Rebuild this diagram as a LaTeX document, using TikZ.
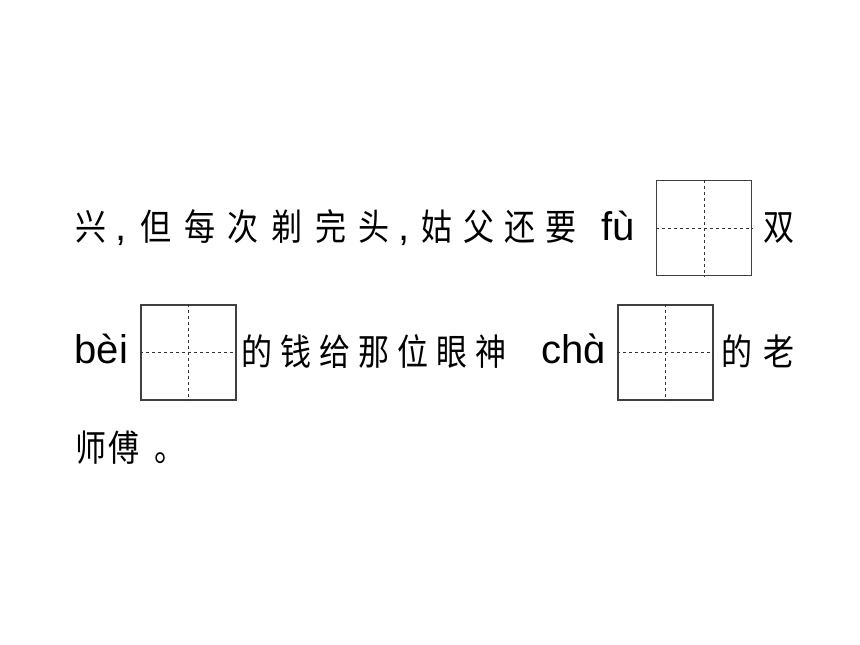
\documentclass[tikz,border=0pt]{standalone}
\usepackage{fontspec}
\usepackage{tikz}
\newfontfamily\hz[FakeStretch=0.85]{Noto Sans CJK SC}
\newfontfamily\py{Liberation Sans}
\tikzset{
  hz/.style={font=\hz\fontsize{36.5}{36.5}\selectfont, inner sep=0pt, anchor=base west},
  py/.style={font=\py\fontsize{40}{40}\selectfont, inner sep=0pt, anchor=base west},
  tian/.style={draw=black!75, line width=1.1pt, minimum size=95pt, inner sep=0pt},
  xu/.style={black!80, line width=0.9pt, dash pattern=on 3pt off 3pt}
}
\begin{document}
\begin{tikzpicture}[x=1pt, y=-1pt]
        \useasboundingbox (0,0) rectangle (860,645);

        % first line
        \node[hz] (xing) at (75.5,240) {兴};
        \node[py] (d1) at (115,240) {,};
        \foreach \c [count=\i from 0] in {但,每,次,剃,完,头}
            \node[hz] (a\i) at (140.5+43.6*\i,240) {\c};
        \node[py] (d2) at (398,240) {,};
        \foreach \c [count=\i from 0] in {姑,父,还,要}
            \node[hz] (b\i) at (421.5+41.3*\i,240) {\c};
        \node[py] (fu) at (601,240) {fù};
        \node[tian] (t1) at (704,228) {};
        \node[hz] (shuang) at (763,240) {双};

        % second line
        \node[py] (bei) at (74.5,363) {bèi};
        \node[tian] (t2) at (188.5,352.5) {};
        \foreach \c [count=\i from 0] in {的,钱,给,那,位,眼,神}
            \node[hz] (c\i) at (241.5+39*\i,365) {\c};
        \node[py] (cha) at (541,363) {chɑ̀};
        \node[tian] (t3) at (665.5,352.5) {};
        \node[hz] (de) at (721.5,365) {的};
        \node[hz] (lao) at (763.5,365) {老};

        % third line
        \node[hz] (shi) at (75.5,461) {师};
        \node[hz] (fu2) at (108.5,461) {傅};
        \node[hz] (ju) at (154,461) {。};

        % dashed crosses
        \foreach \t in {t1,t2,t3} {
            \draw[xu] (\t.north) -- (\t.south);
            \draw[xu] (\t.west) -- (\t.east);
        }
    \end{tikzpicture}
\end{document}
